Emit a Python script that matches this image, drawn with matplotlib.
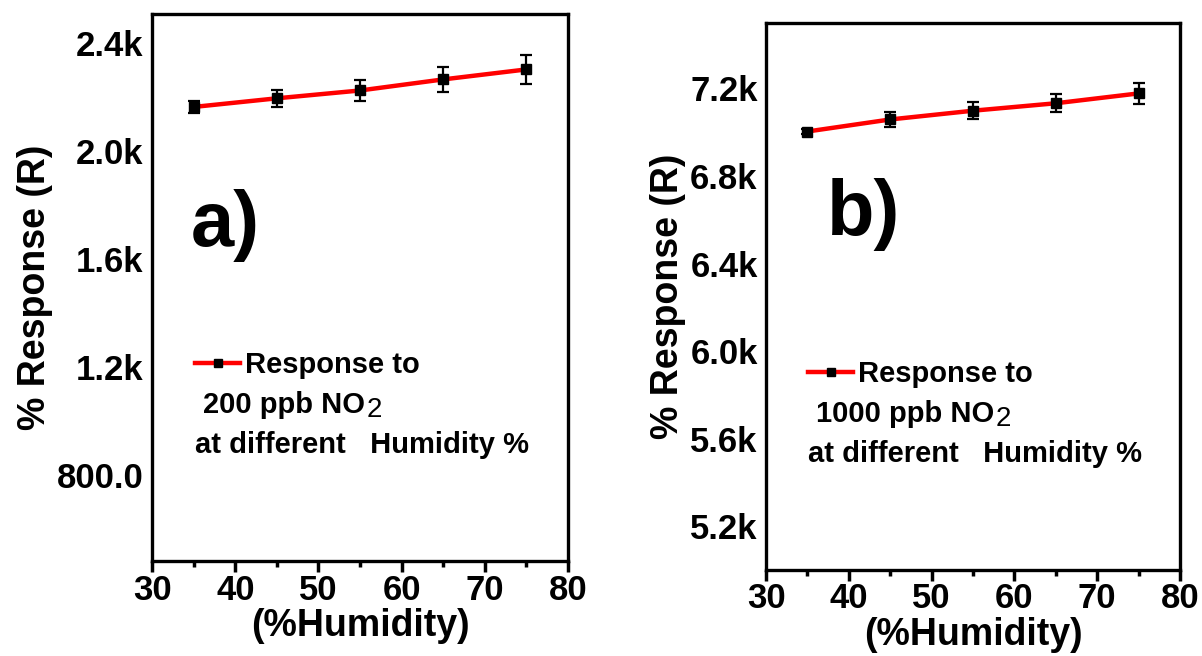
import matplotlib
matplotlib.use('Agg')
import matplotlib.pyplot as plt
from matplotlib.lines import Line2D
from matplotlib.ticker import FixedLocator, MultipleLocator

plt.rcParams['font.family'] = ['Liberation Sans', 'DejaVu Sans']
plt.rcParams['font.weight'] = 'bold'

humidity = [35, 45, 55, 65, 75]

# panel a) 200 ppb NO2
resp_a = [2163, 2195, 2224, 2265, 2302]
err_a = [23, 31, 39, 47, 54]
yticks_a = [800, 1200, 1600, 2000, 2400]
ylabels_a = ['800.0', '1.2k', '1.6k', '2.0k', '2.4k']

# panel b) 1000 ppb NO2
resp_b = [7003, 7058, 7098, 7132, 7177]
err_b = [12, 35, 38, 42, 48]
yticks_b = [5200, 5600, 6000, 6400, 6800, 7200]
ylabels_b = ['5.2k', '5.6k', '6.0k', '6.4k', '6.8k', '7.2k']

xticks = [30, 40, 50, 60, 70, 80]

fig = plt.figure(figsize=(12.02, 6.56), dpi=100)
ax_a = fig.add_axes([0.1265, 0.1448, 0.3461, 0.8338])
ax_b = fig.add_axes([0.6373, 0.1311, 0.3444, 0.8343])


def draw_panel(ax, resp, err, yticks, ylabels, ylim, conc, tag, pos):
    ax.plot(humidity, resp, color='red', lw=3.2, zorder=2)
    ax.errorbar(humidity, resp, yerr=err, fmt='s', color='black', ms=7,
                ecolor='black', elinewidth=1.6, capsize=4, capthick=1.6, zorder=3)
    ax.set_xlim(30, 80)
    ax.set_ylim(*ylim)
    ax.xaxis.set_major_locator(FixedLocator(xticks))
    ax.xaxis.set_minor_locator(MultipleLocator(5))
    ax.yaxis.set_major_locator(FixedLocator(yticks))
    ax.set_yticklabels(ylabels)
    ax.tick_params(axis='x', which='major', direction='out', length=8, width=2.5,
                   labelsize=25, pad=1)
    ax.tick_params(axis='x', which='minor', direction='out', length=4, width=2.5)
    ax.tick_params(axis='y', length=0, labelsize=25, pad=6)
    for lab in ax.get_xticklabels() + ax.get_yticklabels():
        lab.set_fontweight('bold')
    for sp in ax.spines.values():
        sp.set_linewidth(2.4)
    ax.set_xlabel('(%Humidity)', fontsize=27, fontweight='bold', labelpad=1)
    ax.set_ylabel('% Response (R)', fontsize=27, fontweight='bold', labelpad=3)

    lx, ly = pos
    handle = Line2D([], [], color='red', lw=3.2, marker='s', ms=6,
                    markerfacecolor='black', markeredgecolor='black')
    ax.legend([handle], ['Response to'], loc='center left',
              bbox_to_anchor=(lx - 0.035, ly - 0.002), frameon=False,
              handlelength=1.55, handletextpad=0.15, borderpad=0,
              prop={'size': 21, 'weight': 'bold'})
    t = ax.text(lx + 0.02, ly - 0.075, f'{conc} ppb NO',
                transform=ax.transAxes, fontsize=21, fontweight='bold', va='center')
    ax.annotate('2', xy=(1.0, 0.32), xycoords=t, xytext=(1, 0),
                textcoords='offset points', ha='left', va='center',
                fontsize=20, fontweight='normal')
    ax.text(lx, ly - 0.148, 'at different   Humidity %', transform=ax.transAxes,
            fontsize=21, fontweight='bold', va='center')
    ax.text(tag[1], tag[2], tag[0], transform=ax.transAxes, fontsize=56,
            fontweight='bold', va='center')


draw_panel(ax_a, resp_a, err_a, yticks_a, ylabels_a, (482, 2507), 200,
           ('a)', 0.093, 0.614), (0.103, 0.36))
draw_panel(ax_b, resp_b, err_b, yticks_b, ylabels_b, (5000, 7500), 1000,
           ('b)', 0.148, 0.649), (0.101, 0.36))

fig.savefig('out.png', dpi=100)
